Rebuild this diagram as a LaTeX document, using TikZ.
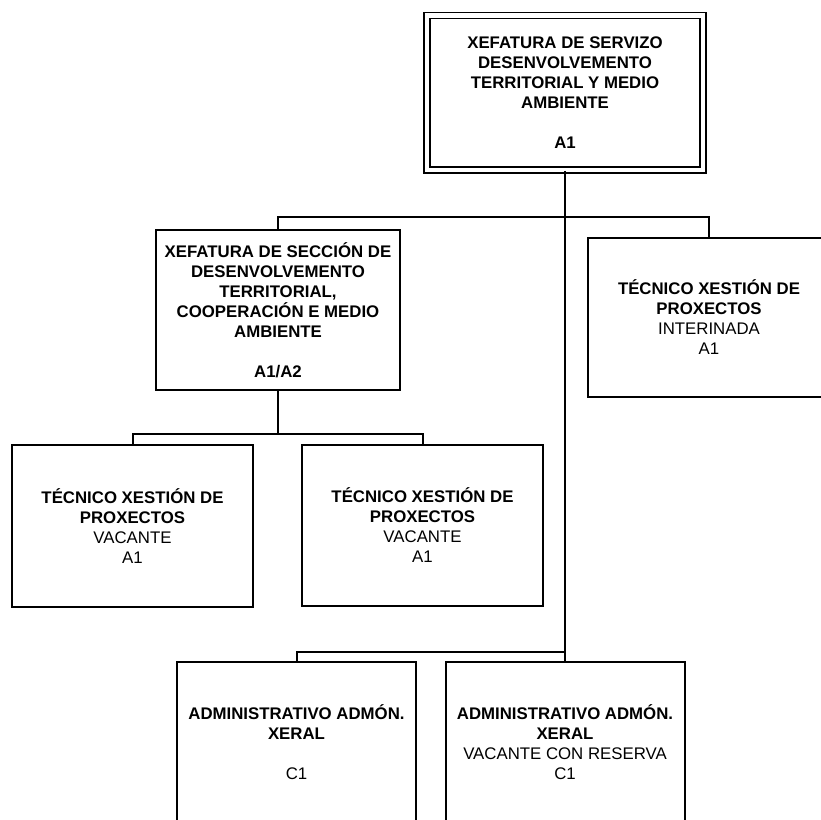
\documentclass[tikz,border=0pt]{standalone}
\usepackage{fontspec}
\setmainfont{Liberation Sans}
\begin{document}
\begin{tikzpicture}[x=1pt,y=-1pt,
  box/.style={draw=black, line width=2pt, fill=white, inner sep=0pt, align=center,
    font=\fontsize{16.8}{20}\selectfont},
  dbox/.style={box, line width=1.6pt, double, double distance=4.4pt},
  wire/.style={draw=black, line width=2pt}]
\useasboundingbox (0,0) rectangle (821,819);
\clip (0,0) rectangle (821,819);
\fill[white] (0,0) rectangle (821,819);

% nodes
\node[dbox, minimum width=276pt, minimum height=154.5pt] (top) at (565,92.75)
  {\textbf{XEFATURA DE SERVIZO}\\\textbf{DESENVOLVEMENTO}\\\textbf{TERRITORIAL Y MEDIO}\\\textbf{AMBIENTE}\\[20pt]\textbf{A1}};
\node[box, minimum width=244pt, minimum height=160pt] (sec) at (278,310)
  {\textbf{XEFATURA DE SECCIÓN DE}\\\textbf{DESENVOLVEMENTO}\\\textbf{TERRITORIAL,}\\\textbf{COOPERACIÓN E MEDIO}\\\textbf{AMBIENTE}\\[20pt]\textbf{A1/A2}};
\node[box, minimum width=242pt, minimum height=159pt] (int) at (709,317.5)
  {\textbf{TÉCNICO XESTIÓN DE}\\\textbf{PROXECTOS}\\INTERINADA\\A1};
\node[box, minimum width=241pt, minimum height=162pt] (t1) at (132.5,526)
  {\textbf{TÉCNICO XESTIÓN DE}\\\textbf{PROXECTOS}\\VACANTE\\A1};
\node[box, minimum width=241pt, minimum height=161pt] (t2) at (422.5,525.5)
  {\textbf{TÉCNICO XESTIÓN DE}\\\textbf{PROXECTOS}\\VACANTE\\A1};
\node[box, minimum width=239pt, minimum height=160pt] (a1) at (296.5,742)
  {\textbf{ADMINISTRATIVO ADMÓN.}\\\textbf{XERAL}\\[20pt]C1};
\node[box, minimum width=239pt, minimum height=160pt] (a2) at (565,742)
  {\textbf{ADMINISTRATIVO ADMÓN.}\\\textbf{XERAL}\\VACANTE CON RESERVA\\C1};

% junctions
\coordinate (j1) at (565,217);
\coordinate (j2) at (278,434);
\coordinate (j3) at (565,652);

% connectors
\draw[wire] (top.south) -- (a2.north);
\draw[wire] (sec.north) |- (j1) -| (int.north);
\draw[wire] (sec.south) -- (j2);
\draw[wire] (t1.north) |- (j2) -| (t2.north);
\draw[wire] (a1.north) |- (j3);
\end{tikzpicture}
\end{document}
